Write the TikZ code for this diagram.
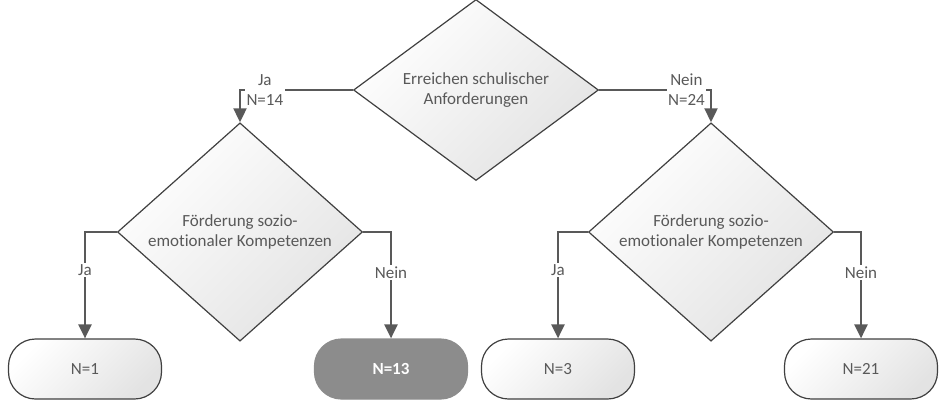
\documentclass[tikz,border=0pt]{standalone}
\usepackage{fontspec}
\setmainfont{Carlito}[Ligatures=NoCommon]
\usetikzlibrary{arrows.meta,shapes.geometric}
\definecolor{linegray}{HTML}{595959}
\definecolor{edgegray}{HTML}{404040}
\definecolor{darkbox}{HTML}{8C8C8C}

\begin{document}
\begin{tikzpicture}[x=1pt,y=-1pt,>={Triangle[length=14pt,width=13pt]},
  font=\fontsize{17}{20}\selectfont,text=linegray,
  decision/.style={diamond,draw=edgegray,line width=1.2pt,minimum width=245pt,
    minimum height=161pt,inner sep=0pt,align=center,
    top color=white,bottom color=black!11,shading angle=45},
  pill/.style={rectangle,line width=1.2pt,rounded corners=27pt,
    minimum width=153pt,minimum height=60pt},
  terminal/.style={pill,draw=edgegray,top color=white,bottom color=black!11,shading angle=45},
  result/.style={pill,draw=darkbox,fill=darkbox,text=white,font=\fontsize{17}{20}\selectfont\bfseries},
  flow/.style={->,draw=linegray,line width=2.4pt},
  answer/.style={fill=white,inner sep=1.5pt,align=center}]
\useasboundingbox (0,0) rectangle (941,399);

% decisions
\node[decision] (school) at (476,90) {Erreichen schulischer\\Anforderungen};
\node[decision] (socja) at (240,232) {Förderung sozio-\\emotionaler Kompetenzen};
\node[decision] (socnein) at (711,232) {Förderung sozio-\\emotionaler Kompetenzen};

% outcomes
\node[terminal] (n1) at (85,369) {N=1};
\node[result] (n13) at (391,369) {N=13};
\node[terminal] (n3) at (558,369) {N=3};
\node[terminal] (n21) at (861,369) {N=21};

% branches
\draw[flow] (school.west) -| node[pos=0.39,answer] {Ja\\N=14} (socja.north);
\draw[flow] (school.east) -| node[pos=0.39,answer] {Nein\\N=24} (socnein.north);
\draw[flow] (socja.west) -| node[pos=0.68,answer] {Ja} (n1.north);
\draw[flow] (socja.east) -| node[pos=0.69,answer] {Nein} (n13.north);
\draw[flow] (socnein.west) -| node[pos=0.68,answer] {Ja} (n3.north);
\draw[flow] (socnein.east) -| node[pos=0.69,answer] {Nein} (n21.north);
\end{tikzpicture}
\end{document}
